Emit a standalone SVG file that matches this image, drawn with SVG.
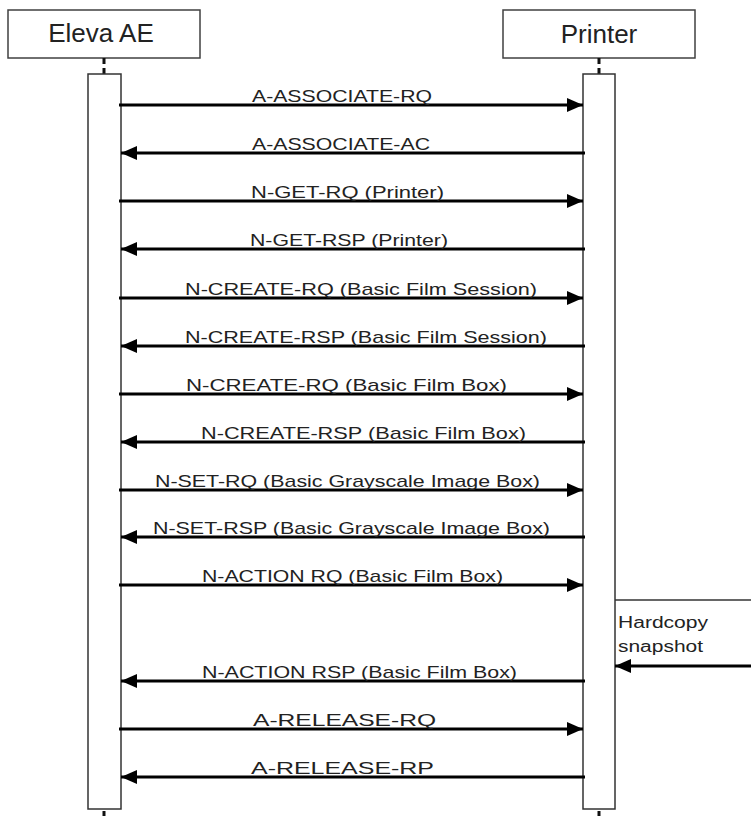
<svg xmlns="http://www.w3.org/2000/svg" width="751" height="816" viewBox="0 0 751 816">
<style>
.box{fill:#fff;stroke:#404040;stroke-width:1.5}
.act{fill:#fff;stroke:#333;stroke-width:1.5}
.life{stroke:#111;stroke-width:3;stroke-dasharray:6,4;fill:none}
.title{font-family:"Liberation Sans",Arial,sans-serif;font-size:26px;fill:#222}
.msg{stroke:#000;stroke-width:3;fill:none}
.lbl{font-family:"Liberation Sans",Arial,sans-serif;font-size:17px;fill:#222}
.note{font-family:"Liberation Sans",Arial,sans-serif;font-size:16px;fill:#222}
</style>
<defs>
<marker id="ah" markerUnits="userSpaceOnUse" markerWidth="16" markerHeight="14" refX="16" refY="7" orient="auto">
<path d="M0,0 L16,7 L0,14 Z" fill="#000"/>
</marker>
</defs>
<rect width="751" height="816" fill="#fff"/>
<g id="eleva">
<rect class="box" x="8" y="10" width="192" height="48"/>
<text class="title" x="101" y="42" text-anchor="middle">Eleva AE</text>
<line class="life" x1="104" y1="58" x2="104" y2="74"/>
<rect class="act" x="88" y="74" width="33" height="735"/>
<line class="life" x1="104" y1="811" x2="104" y2="816"/>
</g>
<g id="printer">
<rect class="box" x="503" y="10" width="192" height="48"/>
<text class="title" x="599" y="43" text-anchor="middle">Printer</text>
<line class="life" x1="599" y1="58" x2="599" y2="74"/>
<rect class="act" x="583" y="74" width="32" height="735"/>
<line class="life" x1="599" y1="811" x2="599" y2="816"/>
</g>
<g id="hardcopy">
<line x1="615" y1="600" x2="751" y2="600" stroke="#333" stroke-width="1.5"/>
<text class="note" x="618" y="628" textLength="90" lengthAdjust="spacingAndGlyphs">Hardcopy</text>
<text class="note" x="618" y="652" textLength="85" lengthAdjust="spacingAndGlyphs">snapshot</text>
</g>
<g id="connectors">
<line class="msg" x1="119" y1="105" x2="583" y2="105" marker-end="url(#ah)"/>
<line class="msg" x1="585" y1="153" x2="121" y2="153" marker-end="url(#ah)"/>
<line class="msg" x1="119" y1="201" x2="583" y2="201" marker-end="url(#ah)"/>
<line class="msg" x1="585" y1="249" x2="121" y2="249" marker-end="url(#ah)"/>
<line class="msg" x1="119" y1="298" x2="583" y2="298" marker-end="url(#ah)"/>
<line class="msg" x1="585" y1="346" x2="121" y2="346" marker-end="url(#ah)"/>
<line class="msg" x1="119" y1="394" x2="583" y2="394" marker-end="url(#ah)"/>
<line class="msg" x1="585" y1="442" x2="121" y2="442" marker-end="url(#ah)"/>
<line class="msg" x1="119" y1="490" x2="583" y2="490" marker-end="url(#ah)"/>
<line class="msg" x1="585" y1="537" x2="121" y2="537" marker-end="url(#ah)"/>
<line class="msg" x1="119" y1="585" x2="583" y2="585" marker-end="url(#ah)"/>
<line class="msg" x1="751" y1="666" x2="615" y2="666" marker-end="url(#ah)"/>
<line class="msg" x1="585" y1="681" x2="121" y2="681" marker-end="url(#ah)"/>
<line class="msg" x1="119" y1="729" x2="583" y2="729" marker-end="url(#ah)"/>
<line class="msg" x1="585" y1="777" x2="121" y2="777" marker-end="url(#ah)"/>
</g>
<g id="labels">
<text class="lbl" x="252" y="102" textLength="180" lengthAdjust="spacingAndGlyphs">A-ASSOCIATE-RQ</text>
<text class="lbl" x="252" y="150" textLength="178" lengthAdjust="spacingAndGlyphs">A-ASSOCIATE-AC</text>
<text class="lbl" x="251" y="198" textLength="193" lengthAdjust="spacingAndGlyphs">N-GET-RQ (Printer)</text>
<text class="lbl" x="250" y="246" textLength="198" lengthAdjust="spacingAndGlyphs">N-GET-RSP (Printer)</text>
<text class="lbl" x="185" y="295" textLength="352" lengthAdjust="spacingAndGlyphs">N-CREATE-RQ (Basic Film Session)</text>
<text class="lbl" x="185" y="343" textLength="362" lengthAdjust="spacingAndGlyphs">N-CREATE-RSP (Basic Film Session)</text>
<text class="lbl" x="186" y="391" textLength="321" lengthAdjust="spacingAndGlyphs">N-CREATE-RQ (Basic Film Box)</text>
<text class="lbl" x="201" y="439" textLength="325" lengthAdjust="spacingAndGlyphs">N-CREATE-RSP (Basic Film Box)</text>
<text class="lbl" x="155" y="487" textLength="385" lengthAdjust="spacingAndGlyphs">N-SET-RQ (Basic Grayscale Image Box)</text>
<text class="lbl" x="153" y="534" textLength="397" lengthAdjust="spacingAndGlyphs">N-SET-RSP (Basic Grayscale Image Box)</text>
<text class="lbl" x="202" y="582" textLength="301" lengthAdjust="spacingAndGlyphs">N-ACTION RQ (Basic Film Box)</text>
<text class="lbl" x="202" y="678" textLength="315" lengthAdjust="spacingAndGlyphs">N-ACTION RSP (Basic Film Box)</text>
<text class="lbl" x="253" y="726" textLength="183" lengthAdjust="spacingAndGlyphs">A-RELEASE-RQ</text>
<text class="lbl" x="251" y="774" textLength="183" lengthAdjust="spacingAndGlyphs">A-RELEASE-RP</text>
</g>
</svg>
